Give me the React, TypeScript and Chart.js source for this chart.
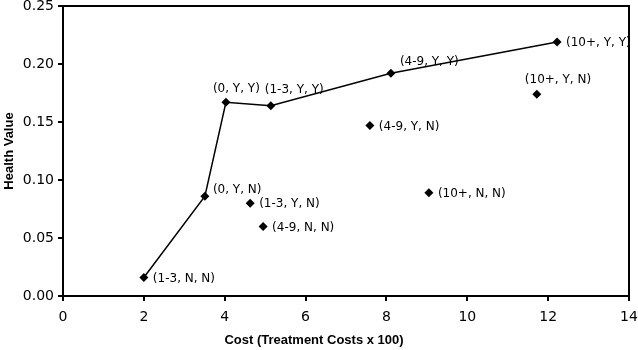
import React, { useEffect, useRef } from "react";
import { Chart, registerables } from "chart.js";

Chart.register(...registerables);

const pointLabels = [
  "(1-3, N, N)",
  "(0, Y, N)",
  "(0, Y, Y)",
  "(1-3, Y, Y)",
  "(4-9, Y, Y)",
  "(10+, Y, Y)",
  "(10+, Y, N)",
  "(4-9, Y, N)",
  "(1-3, Y, N)",
  "(4-9, N, N)",
  "(10+, N, N)",
];
const costs = [2.0, 3.51, 4.03, 5.14, 8.11, 12.22, 11.72, 7.59, 4.63, 4.95, 9.05];
const healthValues = [0.016, 0.086, 0.167, 0.164, 0.192, 0.219, 0.174, 0.147, 0.08, 0.06, 0.089];
const frontierLabels = ["(1-3, N, N)", "(0, Y, N)", "(0, Y, Y)", "(1-3, Y, Y)", "(4-9, Y, Y)", "(10+, Y, Y)"];

const xTitle = "Cost (Treatment Costs x 100)";
const yTitle = "Health Value";

const LABEL_FONT = "12px 'DejaVu Sans', Verdana, sans-serif";
const TITLE_FONT = "bold 13px 'Liberation Sans', Arial, sans-serif";
const labelOffsets: Record<string, [number, number]> = {
  "(0, Y, N)": [8, -6],
  "(0, Y, Y)": [-13, -13],
  "(1-3, Y, Y)": [-6, -16],
  "(4-9, Y, Y)": [9, -11],
  "(10+, Y, N)": [-12, -14],
};

const labelPlugin = {
  id: "pointLabels",
  afterDatasetsDraw(chart: any) {
    const meta = chart.getDatasetMeta(1);
    const ctx = chart.ctx;
    ctx.save();
    ctx.font = LABEL_FONT;
    ctx.fillStyle = "#000";
    ctx.textAlign = "left";
    ctx.textBaseline = "middle";
    meta.data.forEach((el: any, i: number) => {
      const lbl = pointLabels[i];
      const [dx, dy] = labelOffsets[lbl] || [9, 1];
      ctx.fillText(lbl, el.x + dx, el.y + dy);
    });
    ctx.restore();
  },
};

const framePlugin = {
  id: "frame",
  afterDraw(chart: any) {
    const { left, right, top, bottom } = chart.chartArea;
    const ctx = chart.ctx;
    ctx.save();
    ctx.strokeStyle = "#000";
    ctx.lineWidth = 2;
    ctx.beginPath();
    ctx.moveTo(left, top);
    ctx.lineTo(right, top);
    ctx.lineTo(right, bottom);
    ctx.stroke();
    ctx.font = TITLE_FONT;
    ctx.fillStyle = "#000";
    ctx.textAlign = "center";
    ctx.textBaseline = "middle";
    ctx.fillText(xTitle, chart.width / 2 - 5, chart.height - 10);
    ctx.restore();
  },
};

export default function App() {
  const ref = useRef<HTMLCanvasElement>(null);
  useEffect(() => {
    if (!ref.current) return;
    const frontier = frontierLabels.map((l) => {
      const i = pointLabels.indexOf(l);
      return { x: costs[i], y: healthValues[i] };
    });
    const all = pointLabels.map((_, i) => ({ x: costs[i], y: healthValues[i] }));
    const tickFont = { family: "'DejaVu Sans', Verdana, sans-serif", size: 14, lineHeight: 1 };
    const titleFont = { family: "'Liberation Sans', Arial, sans-serif", size: 13, weight: "bold" as const };
    const chart = new Chart(ref.current, {
      type: "scatter",
      data: {
        datasets: [
          {
            data: frontier,
            showLine: true,
            borderColor: "#000",
            borderWidth: 1.5,
            pointRadius: 0,
            fill: false,
          },
          {
            data: all,
            showLine: false,
            pointStyle: "rectRot",
            pointRadius: 4.5,
            backgroundColor: "#000",
            borderColor: "#000",
            borderWidth: 0,
          },
        ],
      },
      options: {
        responsive: false,
        animation: false,
        layout: { padding: { left: 0, right: 9, top: 6, bottom: 0 } },
        plugins: { legend: { display: false }, tooltip: { enabled: false } },
        scales: {
          x: {
            type: "linear",
            min: 0,
            max: 14,
            ticks: { stepSize: 2, color: "#000", font: tickFont, padding: 9 },
            grid: { drawOnChartArea: false, drawTicks: true, tickLength: 5, color: "#000", lineWidth: 2 },
            border: { display: true, color: "#000", width: 2 },
            title: { display: false, text: xTitle },
            afterFit: (s: any) => {
              s.height = 54;
              s.paddingLeft = 0;
              s.paddingRight = 0;
            },
          },
          y: {
            type: "linear",
            min: 0,
            max: 0.25,
            ticks: {
              stepSize: 0.05,
              color: "#000",
              font: tickFont,
              padding: 4,
              callback: (v: any) => Number(v).toFixed(2),
            },
            grid: { drawOnChartArea: false, drawTicks: true, tickLength: 5, color: "#000", lineWidth: 2 },
            border: { display: true, color: "#000", width: 2 },
            title: { display: true, text: yTitle, color: "#000", font: titleFont, padding: { top: 2, bottom: 0 } },
            afterFit: (s: any) => {
              s.width = 63;
              s.paddingTop = 0;
              s.paddingBottom = 0;
            },
          },
        },
      },
      plugins: [labelPlugin, framePlugin],
    });
    return () => chart.destroy();
  }, []);
  return (
    <div style={{ position: "absolute", left: 0, top: 0, width: 638, height: 350, background: "#fff" }}>
      <canvas ref={ref} width={638} height={350} style={{ display: "block" }} />
    </div>
  );
}
